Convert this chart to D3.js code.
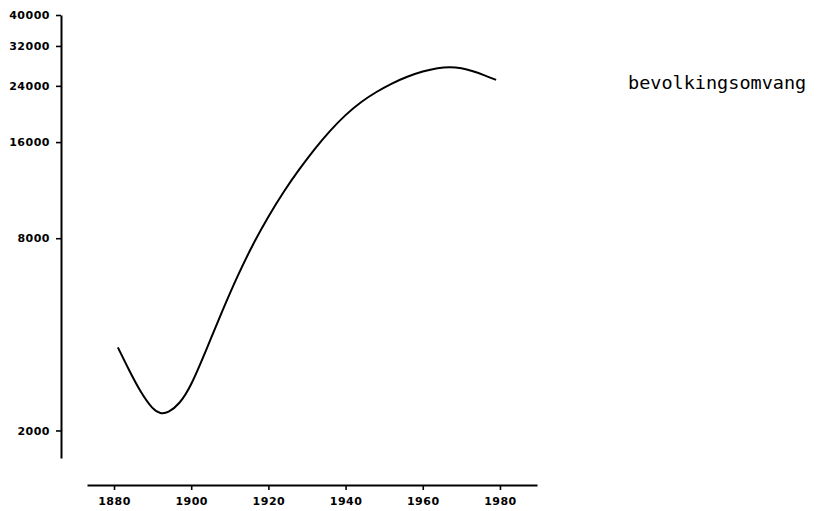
<!DOCTYPE html>
<html>
<head>
<meta charset="utf-8">
<script src="https://cdn.jsdelivr.net/npm/d3@7"></script>
<style>
  body { margin: 0; background: #fff; }
  .tick text { font-family: "DejaVu Sans", sans-serif; font-weight: bold; font-size: 11px; letter-spacing: 0.5px; fill: #000; }
</style>
</head>
<body>
<svg id="chart" width="823" height="511"></svg>
<script>
// population curve
var years = [1881, 1884, 1887, 1890, 1892, 1894, 1897, 1900, 1904, 1908, 1912, 1916, 1920, 1924, 1928, 1932, 1936, 1940, 1944, 1948, 1952, 1956, 1960, 1964, 1967, 1970, 1973, 1976, 1979];
var population = [3640, 3070, 2620, 2330, 2255, 2270, 2420, 2760, 3600, 4720, 6100, 7670, 9370, 11220, 13160, 15250, 17400, 19500, 21400, 23000, 24450, 25660, 26660, 27330, 27530, 27300, 26680, 25900, 25050];

var xTicks = [1880, 1900, 1920, 1940, 1960, 1980];
var yTicks = [2000, 8000, 16000, 24000, 32000, 40000];
var seriesName = "bevolkingsomvang";

var svg = d3.select("#chart");

var x = d3.scaleLinear().domain([1873, 1989.6]).range([87, 537]);
var y = d3.scaleLog().domain([1640, 40000]).range([458, 15]);

var gx = svg.append("g")
  .attr("transform", "translate(0,485)")
  .call(d3.axisBottom(x).tickValues(xTicks).tickFormat(d3.format("d")).tickSize(5).tickSizeOuter(0).tickPadding(7));

var gy = svg.append("g")
  .attr("transform", "translate(61,0)")
  .call(d3.axisLeft(y).tickValues(yTicks).tickFormat(d3.format("d")).tickSize(5).tickSizeOuter(0).tickPadding(6));

[gx, gy].forEach(function(g) {
  g.select(".domain").attr("stroke", "#000").attr("stroke-width", 2);
  g.selectAll(".tick line").attr("stroke", "#000").attr("stroke-width", 1.6);
});

var data = years.map(function(yr, i) { return [yr, population[i]]; });

var line = d3.line()
  .x(function(d) { return x(d[0]); })
  .y(function(d) { return y(d[1]); })
  .curve(d3.curveBasis);

svg.append("path")
  .datum(data)
  .attr("d", line)
  .attr("fill", "none")
  .attr("stroke", "#000")
  .attr("stroke-width", 2);

svg.append("text")
  .attr("x", 628)
  .attr("y", 89)
  .text(seriesName)
  .style("font-family", "'DejaVu Sans Mono', monospace")
  .style("font-size", "18.5px")
  .style("fill", "#000");
</script>
</body>
</html>
